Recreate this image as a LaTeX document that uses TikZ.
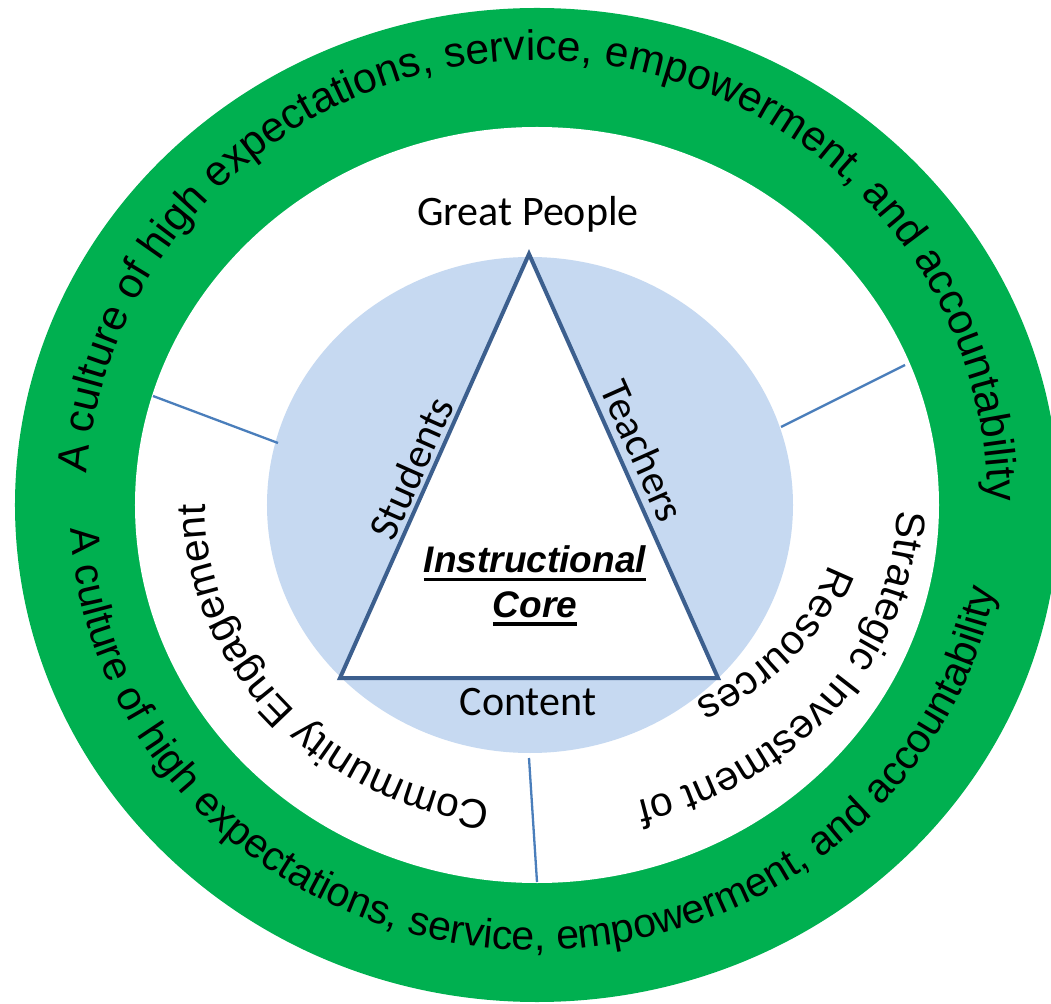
\documentclass[tikz,border=0pt]{standalone}
\usepackage{fontspec}
\setmainfont{Liberation Sans}
\newfontfamily\calibri{Carlito}
\usetikzlibrary{decorations.text,positioning}
\definecolor{ringgreen}{HTML}{00B050}
\definecolor{coreblue}{HTML}{C6D9F1}
\definecolor{edgeblue}{HTML}{3C5F8E}
\definecolor{splitblue}{HTML}{4A7EBB}
\newcommand\ulbar[1]{\setbox0=\hbox{#1}\rlap{\rule[-8.5pt]{\wd0}{3.5pt}}\box0}

\begin{document}
\begin{tikzpicture}[x=1pt,y=1pt,
			lbl/.style={font=\calibri\fontsize{42}{50}\selectfont,inner sep=0pt},
			core/.style={font=\bfseries\itshape\fontsize{37}{44}\selectfont,inner sep=0pt},
			divider/.style={draw=splitblue,line width=2.3pt},
			arch/.style 2 args={decorate,decoration={text along path,text={|\fontsize{#1}{#1}\selectfont|#2}}}
			]
			\useasboundingbox (-537,-498) rectangle (514,505);
			% rings
			\fill[ringgreen] (0,0) ellipse[x radius=522,y radius=497];
			\fill[white] (0,0) ellipse[x radius=402,y radius=378];
			\fill[coreblue] (-7,0) ellipse[x radius=263,y radius=248];
			% dividers
			\coordinate (s1a) at (-384,109);
			\coordinate (s1b) at (-259,62);
			\coordinate (s2a) at (244,78);
			\coordinate (s2b) at (368,140);
			\coordinate (s3a) at (-8,-253);
			\coordinate (s3b) at (0,-377);
			\draw[divider] (s1a) -- (s1b);
			\draw[divider] (s2a) -- (s2b);
			\draw[divider] (s3a) -- (s3b);
			% triangle
			\coordinate (apex) at (-8,251);
			\coordinate (lcorner) at (-197,-173);
			\coordinate (rcorner) at (181,-173);
			\draw[edgeblue,line width=4pt,fill=white] (apex) -- (rcorner) -- (lcorner) -- cycle;
			\node[lbl,anchor=base] (great) at (-9,279) {Great People};
			\node[lbl,anchor=base] (content) at (-9,-210) {Content};
			\node[lbl,rotate=66] (students) at (-126,37) {Students};
			\node[lbl,rotate=-66] (teachers) at (106,54) {Teachers};
			\node[core,anchor=base] (instr) at (-2,-68) {\ulbar{Instructional}};
			\node[core,anchor=base] (corelbl) at (-2,-112) {\ulbar{Core}};
			% curved texts
			\path[arch={41}{Community Engagement}] (262:332 and 300) arc[start angle=262,end angle=140,x radius=332,y radius=300];
			\path[arch={41}{Strategic Investment of}] (-1:360 and 308) arc[start angle=-1,end angle=-110,x radius=360,y radius=308];
			\path[arch={41}{Resources}] (-15:302 and 230) arc[start angle=-15,end angle=-90,x radius=302,y radius=230];
			\path[arch={42.5}{A culture of high expectations, service, empowerment, and accountability}] (176:451 and 445) arc[start angle=176,end angle=-20,x radius=451,y radius=445];
			\path[arch={41}{A culture of high expectations, service, empowerment, and accountability}] (183:467 and 445) arc[start angle=183,end angle=375,x radius=467,y radius=445];
		\end{tikzpicture}
\end{document}
